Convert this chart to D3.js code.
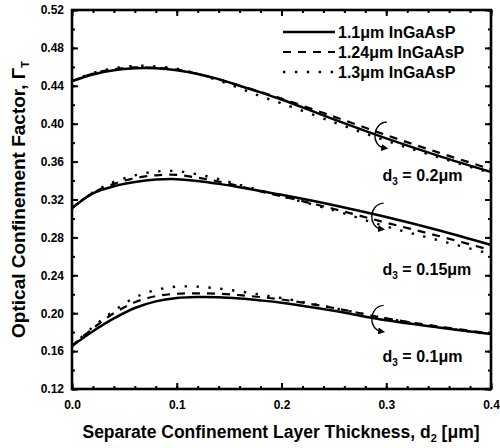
<!DOCTYPE html>
<html>
<head>
<meta charset="utf-8">
<script src="https://cdn.jsdelivr.net/npm/d3@7"></script>
<style>
  body { margin: 0; background: #fff; }
  svg { display: block; }
  text { font-family: "Liberation Sans", Arial, sans-serif; font-weight: bold; fill: #000; }
</style>
</head>
<body>
<div id="chart"></div>
<script>
// ── data ───────────────────────────────────────────────────
const d2 = [0, 0.02, 0.04, 0.06, 0.08, 0.10, 0.12, 0.14, 0.16, 0.18, 0.20, 0.25, 0.30, 0.35, 0.40];

// d3 = 0.2 um
const g20_q11  = [0.445, 0.452, 0.4565, 0.4585, 0.4585, 0.4565, 0.4525, 0.4470, 0.4400, 0.4330, 0.4255, 0.4045, 0.3845, 0.3660, 0.3490];
const g20_q124 = [0.445, 0.453, 0.4575, 0.4595, 0.4590, 0.4570, 0.4525, 0.4468, 0.4400, 0.4335, 0.4265, 0.4075, 0.3880, 0.3695, 0.3520];
const g20_q13  = [0.445, 0.4535, 0.4585, 0.4610, 0.4605, 0.4580, 0.4525, 0.4455, 0.4375, 0.4290, 0.4215, 0.4015, 0.3820, 0.3645, 0.3480];

// d3 = 0.15 um
const g15_q11  = [0.311, 0.3265, 0.3340, 0.3385, 0.3410, 0.3415, 0.3395, 0.3365, 0.3330, 0.3290, 0.3250, 0.3140, 0.3015, 0.2875, 0.2720];
const g15_q124 = [0.311, 0.3270, 0.3365, 0.3425, 0.3455, 0.3460, 0.3430, 0.3390, 0.3340, 0.3285, 0.3235, 0.3100, 0.2955, 0.2815, 0.2665];
const g15_q13  = [0.311, 0.3275, 0.3385, 0.3455, 0.3495, 0.3500, 0.3465, 0.3415, 0.3355, 0.3295, 0.3235, 0.3085, 0.2915, 0.2770, 0.2625];

// d3 = 0.1 um
const g10_q11  = [0.1655, 0.1810, 0.1945, 0.2055, 0.2125, 0.2160, 0.2170, 0.2168, 0.2155, 0.2135, 0.2110, 0.2025, 0.1925, 0.1850, 0.1780];
const g10_q124 = [0.1655, 0.1840, 0.2000, 0.2115, 0.2180, 0.2205, 0.2210, 0.2205, 0.2190, 0.2170, 0.2145, 0.2055, 0.1945, 0.1860, 0.1785];
const g10_q13  = [0.1655, 0.1855, 0.2025, 0.2165, 0.2245, 0.2280, 0.2280, 0.2260, 0.2230, 0.2195, 0.2160, 0.2055, 0.1945, 0.1855, 0.1775];

const legendLabels = ["1.1\u03bcm InGaAsP", "1.24\u03bcm InGaAsP", "1.3\u03bcm InGaAsP"];
const groupLabels = ["0.2", "0.15", "0.1"];
const labelPos = [[0.2965, 0.340], [0.2965, 0.2405], [0.2965, 0.148]];   // baseline of the d3 labels
const bracketPos = [[0.290, 0.388], [0.287, 0.3025], [0.287, 0.1945]];    // the "(" markers

const xMajor = [0, 0.1, 0.2, 0.3, 0.4];
const yMajor = [0.12, 0.16, 0.20, 0.24, 0.28, 0.32, 0.36, 0.40, 0.44, 0.48, 0.52];

// ── layout ─────────────────────────────────────────────────
const W = 500, H = 448;
const margin = { top: 10, right: 9, bottom: 59, left: 72 };
const w = W - margin.left - margin.right;
const h = H - margin.top - margin.bottom;

const svg = d3.select("#chart").append("svg")
  .attr("width", W).attr("height", H);

const g = svg.append("g").attr("transform", `translate(${margin.left},${margin.top})`);

const x = d3.scaleLinear().domain([0, 0.4]).range([0, w]);
const y = d3.scaleLinear().domain([0.12, 0.52]).range([h, 0]);

const styles = [
  { dash: null, width: 2.5 },
  { dash: "8,7", width: 2.2 },
  { dash: "2.4,9.5", width: 2.4 }
];

const groups = [
  [g20_q11, g20_q124, g20_q13],
  [g15_q11, g15_q124, g15_q13],
  [g10_q11, g10_q124, g10_q13]
];

const line = d3.line()
  .x((d, i) => x(d2[i]))
  .y(d => y(d))
  .curve(d3.curveCatmullRom.alpha(0.5));

groups.forEach(series => {
  series.forEach((vals, k) => {
    g.append("path")
      .datum(vals)
      .attr("d", line)
      .attr("fill", "none")
      .attr("stroke", "#000")
      .attr("stroke-width", styles[k].width)
      .attr("stroke-dasharray", styles[k].dash);
  });
});

// ── axes: inward ticks on all four sides ──────────────────
const xMinor = d3.range(0, 0.4001, 0.02);
const yMinor = d3.range(0.12, 0.5201, 0.02);

function drawAxis(axis, ticks, size) {
  return sel => sel.call(axis.tickValues(ticks).tickSize(size).tickFormat(""))
    .call(s => s.select(".domain").remove())
    .call(s => s.selectAll("line").attr("stroke", "#000").attr("stroke-width", 2));
}

// minor
g.append("g").attr("transform", `translate(0,${h})`).call(drawAxis(d3.axisTop(x), xMinor, 3));
g.append("g").call(drawAxis(d3.axisBottom(x), xMinor, 3));
g.append("g").call(drawAxis(d3.axisRight(y), yMinor, 3));
g.append("g").attr("transform", `translate(${w},0)`).call(drawAxis(d3.axisLeft(y), yMinor, 3));
// major
g.append("g").attr("transform", `translate(0,${h})`).call(drawAxis(d3.axisTop(x), xMajor, 6));
g.append("g").call(drawAxis(d3.axisBottom(x), xMajor, 6));
g.append("g").call(drawAxis(d3.axisRight(y), yMajor, 6));
g.append("g").attr("transform", `translate(${w},0)`).call(drawAxis(d3.axisLeft(y), yMajor, 6));

// tick labels
const tickFont = s => s.selectAll("text")
  .style("font-size", "12px")
  .style("font-family", "Liberation Sans, Arial, sans-serif")
  .style("font-weight", "bold");

const xLab = g.append("g").attr("transform", `translate(0,${h})`)
  .call(d3.axisBottom(x).tickValues(xMajor).tickSize(0).tickPadding(11).tickFormat(d3.format(".1f")));
xLab.select(".domain").remove();
xLab.call(tickFont);

const yLab = g.append("g")
  .call(d3.axisLeft(y).tickValues(yMajor).tickSize(0).tickPadding(8).tickFormat(d3.format(".2f")));
yLab.select(".domain").remove();
yLab.call(tickFont);

// frame
g.append("rect")
  .attr("width", w).attr("height", h)
  .attr("fill", "none").attr("stroke", "#000").attr("stroke-width", 2.6);

// ── axis titles ────────────────────────────────────────────
const xt = svg.append("text")
  .attr("x", 281).attr("y", 438)
  .attr("text-anchor", "middle")
  .style("font-size", "17.5px");
xt.append("tspan").text("Separate Confinement Layer Thickness, d");
xt.append("tspan").attr("dy", 4).style("font-size", "11px").text("2");
xt.append("tspan").attr("dy", -4).text(" [\u03bcm]");

const yt = svg.append("text")
  .attr("transform", `translate(25,${margin.top + h / 2}) rotate(-90)`)
  .attr("text-anchor", "middle")
  .style("font-size", "19px");
yt.append("tspan").text("Optical Confinement Factor, \u0393");
yt.append("tspan").attr("dy", 4).style("font-size", "11px").text("T");

// ── legend ────────────────────────────────────────────────
const leg = g.append("g").attr("transform", "translate(211,22)");
legendLabels.forEach((lab, k) => {
  const row = leg.append("g").attr("transform", `translate(0,${k * 20})`);
  row.append("line")
    .attr("x1", 0).attr("x2", 52)
    .attr("stroke", "#000")
    .attr("stroke-width", styles[k].width)
    .attr("stroke-dasharray", styles[k].dash);
  row.append("text")
    .attr("x", 55).attr("dy", "0.35em")
    .style("font-size", "16px")
    .text(lab);
});

// ── d3 labels and brackets ────────────────────────────────
groupLabels.forEach((lab, k) => {
  const t = g.append("text")
    .attr("x", x(labelPos[k][0])).attr("y", y(labelPos[k][1]))
    .style("font-size", "16px");
  t.append("tspan").text("d");
  t.append("tspan").attr("dy", 4).style("font-size", "10px").text("3");
  t.append("tspan").attr("dy", -4).text(" = " + lab + "\u03bcm");
});

svg.append("defs").append("marker")
  .attr("id", "arr").attr("viewBox", "0 0 10 10")
  .attr("refX", 5).attr("refY", 5)
  .attr("markerWidth", 5).attr("markerHeight", 5)
  .attr("orient", "auto")
  .append("path").attr("d", "M0,0 L10,5 L0,10 z").attr("fill", "#000");

bracketPos.forEach(p => {
  const cx = x(p[0]), cy = y(p[1]);
  g.append("path")
    .attr("d", `M${cx + 11},${cy - 13} C${cx - 4},${cy - 12} ${cx - 5},${cy + 11} ${cx + 9},${cy + 13}`)
    .attr("fill", "none")
    .attr("stroke", "#000")
    .attr("stroke-width", 1.4)
    .attr("marker-end", "url(#arr)");
});
</script>
</body>
</html>
